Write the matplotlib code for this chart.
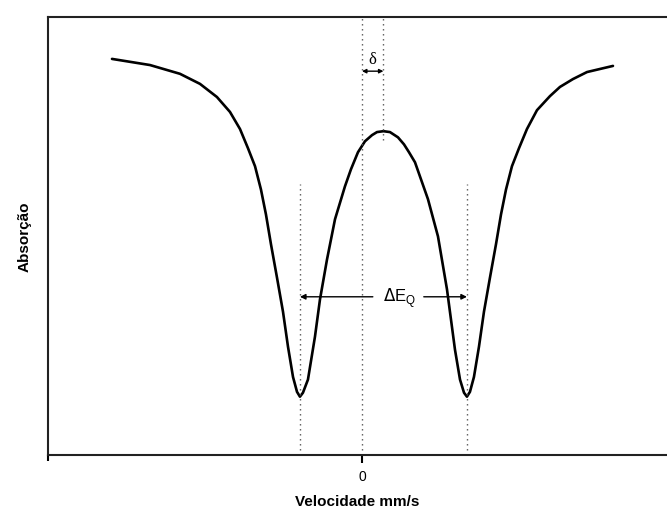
import matplotlib.pyplot as plt

# velocity (mm/s) and absorption
velocity = [-2.994, -2.539, -2.180, -1.940, -1.737, -1.581, -1.461, -1.365, -1.281, -1.210,
            -1.150, -1.090, -1.018, -0.946, -0.886, -0.826, -0.778, -0.743, -0.707, -0.647,
            -0.563, -0.503, -0.419, -0.323, -0.204, -0.132, -0.048, 0.036, 0.120, 0.180,
            0.257, 0.335, 0.431, 0.503, 0.563, 0.635, 0.707, 0.790, 0.910, 1.018,
            1.114, 1.174, 1.222, 1.257, 1.293, 1.341, 1.401, 1.461, 1.533, 1.605,
            1.665, 1.725, 1.796, 1.880, 1.976, 2.096, 2.251, 2.371, 2.527, 2.695,
            2.850, 3.006]
absorption = [0.904, 0.890, 0.870, 0.847, 0.817, 0.783, 0.744, 0.700, 0.659, 0.606,
              0.549, 0.481, 0.405, 0.327, 0.247, 0.178, 0.144, 0.133, 0.142, 0.172,
              0.270, 0.355, 0.446, 0.538, 0.613, 0.652, 0.691, 0.716, 0.730, 0.737,
              0.739, 0.737, 0.725, 0.709, 0.691, 0.668, 0.629, 0.584, 0.499, 0.378,
              0.240, 0.172, 0.142, 0.133, 0.144, 0.178, 0.247, 0.327, 0.405, 0.481,
              0.549, 0.606, 0.659, 0.700, 0.744, 0.787, 0.819, 0.840, 0.858, 0.874,
              0.881, 0.888]

line_left = -0.743    # first absorption line
line_right = 1.257    # second absorption line
isomer_shift = 0.257  # delta, centre of the doublet
xlim = (-3.76, 3.653)

fig = plt.figure(figsize=(6.67, 5.10), dpi=100)
ax = fig.add_axes([0.072, 0.106, 0.928, 0.859])

ax.plot(velocity, absorption, color='black', linewidth=1.9,
        solid_capstyle='round', solid_joinstyle='round')

# dotted guide lines
dot = dict(color='#555555', linewidth=1.0, linestyle=(0, (1, 2.6)))
ax.plot([0, 0], [0, 1], **dot)
ax.plot([isomer_shift, isomer_shift], [0.720, 1], **dot)
ax.plot([line_left, line_left], [0, 0.618], **dot)
ax.plot([line_right, line_right], [0, 0.618], **dot)

# delta arrow
ax.annotate('', xy=(0, 0.876), xytext=(isomer_shift, 0.876),
            arrowprops=dict(arrowstyle='<|-|>', color='black', lw=1.0,
                            mutation_scale=6, shrinkA=0, shrinkB=0))
ax.text(isomer_shift / 2, 0.903, 'δ', ha='center', va='center',
        fontsize=12, family='Liberation Serif')

# quadrupole splitting arrows
y_eq = 0.361
ax.annotate('', xy=(line_left, y_eq), xytext=(0.13, y_eq),
            arrowprops=dict(arrowstyle='-|>', color='black', lw=1.0,
                            mutation_scale=8, shrinkA=0, shrinkB=0))
ax.annotate('', xy=(line_right, y_eq), xytext=(0.74, y_eq),
            arrowprops=dict(arrowstyle='-|>', color='black', lw=1.0,
                            mutation_scale=8, shrinkA=0, shrinkB=0))
ax.text(0.445, y_eq, r'$\Delta$E$_{\mathregular{Q}}$', ha='center', va='center',
        fontsize=12, family='Liberation Sans')

ax.set_xlim(*xlim)
ax.set_ylim(0, 1)
ax.set_xticks([0])
ax.set_xticklabels(['0'], family='Liberation Sans', fontsize=10)
ax.set_xticks([xlim[0]], minor=True)
ax.tick_params(axis='x', which='major', length=6, width=1.5, direction='out', pad=4)
ax.tick_params(axis='x', which='minor', length=4, width=1.5, direction='out')
ax.set_yticks([])

for side in ['left', 'bottom', 'top']:
    ax.spines[side].set_linewidth(1.5)
    ax.spines[side].set_color('#222222')
ax.spines['right'].set_visible(False)

ax.set_xlabel('Velocidade mm/s', fontsize=11, fontweight='bold',
              family='Liberation Sans', labelpad=8)
ax.set_ylabel('Absorção', fontsize=11, fontweight='bold',
              family='Liberation Sans', labelpad=12)

fig.savefig('out.png', dpi=100)
